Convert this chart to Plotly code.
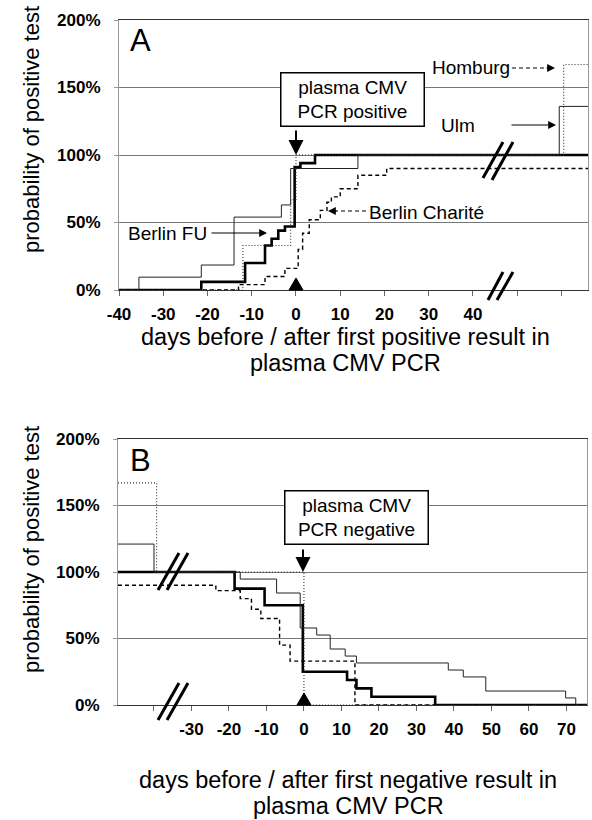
import plotly.graph_objects as go

W, H = 592, 820
FONT = "Liberation Sans, Arial, sans-serif"

# ---------------- data ----------------
# Panel A: days before/after first positive plasma CMV PCR, cumulative %
a_fu_days = [-40, -21.4, -11.5, -7, -5.5, -4, -2.5, -0.3, 1, 4.3, 66]
a_fu_pct = [0, 6, 20, 33, 38, 44, 47, 91, 94, 100, 100]
a_ulm_days = [-40, -35.5, -21.4, -14, -3.3, -1.2, 14, 59.5, 66]
a_ulm_pct = [0, 9.5, 18.5, 54, 63, 90, 100, 136, 136]
a_hom_days = [-40, -12, -1.2, 0, 60.5, 66]
a_hom_pct = [0, 33, 67, 100, 167, 167]
a_cha_days = [-40, -13, -7, -2.5, 0.5, 1.5, 3, 5.5, 7, 8, 10, 14, 20.5, 66]
a_cha_pct = [0, 4, 10, 16, 30, 42, 52, 59, 65, 69, 75, 85, 90, 90]

# Panel B: days before/after first negative plasma CMV PCR
b_fu_days = [-49.6, -18.5, -10.5, -0.3, 11.5, 14, 18, 35, 75.5]
b_fu_pct = [100, 87.5, 75, 25, 18.75, 12.5, 6.25, 0, 0]
b_ulm_days = [-49.6, -40, -17, -7.3, -1, 3.4, 7, 11, 14, 38.5, 42.5, 48.5, 69.8, 72.5, 75.5]
b_ulm_pct = [121, 100, 94.7, 84.2, 57.9, 52.6, 42.1, 36.8, 31.6, 26.3, 21.1, 10.5, 5.3, 0, 0]
b_hom_days = [-49.6, -39.3, 0, 75.5]
b_hom_pct = [167, 100, 0, 0]
b_cha_days = [-49.6, -23.5, -17, -14, -11.5, -6.5, -3.7, 13.6, 75.5]
b_cha_pct = [90, 86, 80, 72, 65, 45, 33, 0, 0]

y_ticks = [0, 50, 100, 150, 200]
y_labels = ["0%", "50%", "100%", "150%", "200%"]
a_xticks = [-40, -30, -20, -10, 0, 10, 20, 30, 40, 50, 60]
a_xlabels = ["-40", "-30", "-20", "-10", "0", "10", "20", "30", "40", "", ""]
b_xticks = [-40, -30, -20, -10, 0, 10, 20, 30, 40, 50, 60, 70]
b_xlabels = ["", "-30", "-20", "-10", "0", "10", "20", "30", "40", "50", "60", "70"]

# ---------------- helpers ----------------
def px(x):
    return x / W

def py(y):
    return 1 - y / H

styles = {
    "fu": dict(color="black", width=2.6),
    "ulm": dict(color="#222", width=1),
    "hom": dict(color="#333", width=1.1, dash="1px,2px"),
    "cha": dict(color="black", width=1.4, dash="4px,3px"),
}

fig = go.Figure()
for xa_, ya_, sets in [
    ("x", "y", [(a_fu_days, a_fu_pct, "fu"), (a_ulm_days, a_ulm_pct, "ulm"),
                (a_hom_days, a_hom_pct, "hom"), (a_cha_days, a_cha_pct, "cha")]),
    ("x2", "y2", [(b_fu_days, b_fu_pct, "fu"), (b_ulm_days, b_ulm_pct, "ulm"),
                  (b_hom_days, b_hom_pct, "hom"), (b_cha_days, b_cha_pct, "cha")]),
]:
    for xs, ys, k in sets:
        fig.add_trace(go.Scatter(x=xs, y=ys, mode="lines", line=styles[k],
                                 line_shape="hv", xaxis=xa_, yaxis=ya_,
                                 showlegend=False, hoverinfo="skip"))

tickfont = dict(family=FONT, size=17, color="black", weight="bold")

def xaxis(dom, rng, tv, tt):
    return dict(domain=dom, range=rng, tickvals=tv, ticktext=tt, showgrid=False,
                zeroline=False, showline=True, linecolor="#333", linewidth=1,
                mirror=True, ticks="outside", ticklen=5, tickcolor="#666",
                tickfont=tickfont, ticklabelstandoff=4, fixedrange=True,
                automargin=False)

def yaxis(dom, anchor):
    return dict(domain=dom, range=[0, 200], tickvals=y_ticks, ticktext=y_labels,
                showgrid=True, gridcolor="#777", gridwidth=1, zeroline=False,
                showline=True, linecolor="#999", linewidth=1, mirror=True,
                ticks="outside", ticklen=4, tickcolor="#999", tickfont=tickfont,
                ticklabelstandoff=10, anchor=anchor, fixedrange=True,
                automargin=False)

xa = xaxis([px(119), px(588)], [-40, 66], a_xticks, a_xlabels)
xa["anchor"] = "y"
xb = xaxis([px(118), px(587)], [-49.6, 75.5], b_xticks, b_xlabels)
xb["anchor"] = "y2"

annotations = []
shapes = []

def text(x, y, s, size=19, **kw):
    d = dict(x=px(x), y=py(y), xref="paper", yref="paper", text=s, showarrow=False,
             xanchor="center", yanchor="middle",
             font=dict(family=FONT, size=size, color="black"))
    d.update(kw)
    annotations.append(d)

def arrow(x0, y0, x1, y1, width=1.3, size=1.2):
    annotations.append(dict(x=px(x1), y=py(y1), ax=x0 - x1, ay=y0 - y1, xref="paper",
                            yref="paper", axref="pixel", ayref="pixel", text="",
                            showarrow=True, arrowhead=2, arrowsize=size,
                            arrowwidth=width, arrowcolor="black", standoff=0))

def line(x0, y0, x1, y1, width=1, dash=None):
    shapes.append(dict(type="line", xref="paper", yref="paper", x0=px(x0), y0=py(y0),
                       x1=px(x1), y1=py(y1), line=dict(color="black", width=width,
                                                       dash=dash)))

def tri(cx, base_y, half=7, h=12):
    path = "M %f,%f L %f,%f L %f,%f Z" % (px(cx - half), py(base_y), px(cx + half),
                                          py(base_y), px(cx), py(base_y - h))
    shapes.append(dict(type="path", xref="paper", yref="paper", path=path,
                       fillcolor="black", line=dict(color="black", width=1)))

# panel letters
text(140, 40, "A", size=31)
text(140, 460, "B", size=31)

# y-axis titles
text(31, 130, "probability of positive test", size=22, textangle=-90)
text(31, 550, "probability of positive test", size=22, textangle=-90)

# x-axis titles (two lines each)
text(345, 337, "days before / after first positive result in", size=23.5)
text(345, 363, "plasma CMV PCR", size=23.5)
text(348, 780, "days before / after first negative result in", size=23.5)
text(348, 806, "plasma CMV PCR", size=23.5)

# boxes
box = dict(bordercolor="black", borderwidth=1.5, borderpad=3, bgcolor="white",
           width=136, align="center")
text(352, 99, "plasma CMV<br>PCR positive", **box)
text(356.5, 517.5, "plasma CMV<br>PCR negative", **box)
arrow(296, 129, 296, 155, width=2, size=1.5)
arrow(303, 548, 303, 572, width=2, size=1.5)

# triangles on x axis at day 0
tri(296, 290)
tri(304, 705)

# series labels
text(471, 68, "Homburg")
line(512, 68, 549, 68, width=1.2, dash="4px,3px")
arrow(545, 68, 555, 68, width=1.2, size=1.3)
text(458, 125, "Ulm")
arrow(510, 125, 556, 125, width=1.2, size=1.3)
text(426, 212, "Berlin Charité")
line(366, 211, 334, 211, width=1.2, dash="4px,3px")
arrow(338, 211, 328, 211, width=1.2, size=1.3)
text(167, 233, "Berlin FU")
arrow(210, 233, 267, 233, width=1.2, size=1.3)

# axis break marks
for (x0, y0, x1, y1) in [(483, 178, 503, 142), (492, 180, 513, 142),
                         (488, 300, 503, 272), (497, 300, 513, 272),
                         (158, 590, 179, 553), (167, 590, 188, 553),
                         (158, 720, 179, 683), (167, 720, 188, 683)]:
    line(x0, y0, x1, y1, width=3)

fig.update_layout(
    width=W, height=H,
    margin=dict(l=0, r=0, t=0, b=0, pad=0, autoexpand=False),
    paper_bgcolor="white", plot_bgcolor="white",
    xaxis=xa, yaxis=yaxis([py(290), py(20)], "x"),
    xaxis2=xb, yaxis2=yaxis([py(705), py(439)], "x2"),
    annotations=annotations, shapes=shapes, showlegend=False,
    font=dict(family=FONT, color="black"),
)

fig.write_html("out.html", config={"displayModeBar": False},
               post_script="document.body.style.margin='0';"
                           "document.body.style.overflow='hidden';")
